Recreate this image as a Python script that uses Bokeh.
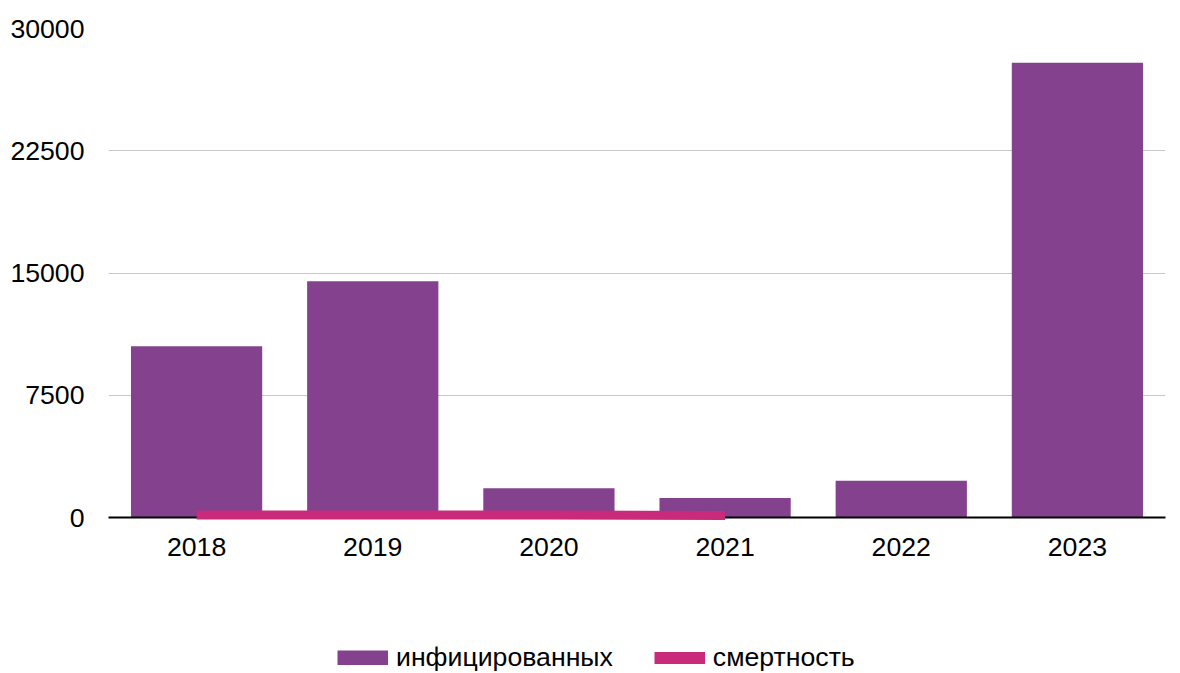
from bokeh.plotting import figure
from bokeh.layouts import column
from bokeh.models import FixedTicker, Legend, LegendItem, FactorRange, Range1d, NumeralTickFormatter
from bokeh.embed import file_html
from bokeh.resources import INLINE

years = ["2018", "2019", "2020", "2021", "2022", "2023"]
infected = [10500, 14500, 1800, 1200, 2250, 27900]
death_years = ["2018", "2019", "2020", "2021"]
deaths = [160, 160, 150, 130]
y_ticks = [0, 7500, 15000, 22500, 30000]
series_names = ["инфицированных", "смертность"]

BAR = "#84418E"
LINE = "#C92A7C"
FONT = "Liberation Sans"
FSIZE = "20pt"

p = figure(width=1172, height=580, x_range=FactorRange(*years, range_padding=0),
           y_range=Range1d(0, 30000), output_backend="svg", toolbar_location=None,
           min_border_left=108, min_border_right=7, min_border_top=28, min_border_bottom=63)
p.outline_line_color = None

bars = p.vbar(x=years, top=infected, width=0.745, color=BAR, line_color=None)
ln = p.line(x=death_years, y=deaths, line_color=LINE, line_width=9)
ln.level = "overlay"

p.yaxis.ticker = FixedTicker(ticks=y_ticks)
p.yaxis.formatter = NumeralTickFormatter(format="0")
p.yaxis.axis_line_color = None
p.yaxis.major_tick_line_color = None
p.yaxis.minor_tick_line_color = None
p.yaxis.major_label_text_font = FONT
p.yaxis.major_label_text_font_size = FSIZE
p.yaxis.major_label_text_color = "#000000"
p.yaxis.major_label_standoff = 18

p.xaxis.axis_line_color = "#000000"
p.xaxis.axis_line_width = 2
p.xaxis.major_tick_line_color = None
p.xaxis.minor_tick_line_color = None
p.xaxis.major_label_text_font = FONT
p.xaxis.major_label_text_font_size = FSIZE
p.xaxis.major_label_text_color = "#000000"
p.xaxis.major_label_standoff = 14

p.xgrid.grid_line_color = None
p.ygrid.ticker = FixedTicker(ticks=y_ticks)
p.ygrid.grid_line_color = "#C8C8C8"
p.ygrid.grid_line_width = 1

# legend strip below the chart (its single-point lines only serve as legend swatches)
q = figure(width=1172, height=93, x_range=Range1d(0, 1), y_range=Range1d(0, 1),
           output_backend="svg", toolbar_location=None,
           min_border_left=0, min_border_right=0, min_border_top=0, min_border_bottom=0)
q.axis.visible = False
q.grid.visible = False
q.outline_line_color = None
swatch_bar = q.line(x=[0.5], y=[0.5], line_color=BAR, line_width=15)
swatch_line = q.line(x=[0.5], y=[0.5], line_color=LINE, line_width=12)

legend = Legend(items=[LegendItem(label=series_names[0], renderers=[swatch_bar]),
                       LegendItem(label=series_names[1], renderers=[swatch_line])],
                orientation="horizontal", location=(229, 0),
                label_text_font=FONT, label_text_font_size=FSIZE, label_text_color="#000000",
                glyph_width=51, glyph_height=15, label_standoff=8, spacing=41,
                border_line_alpha=0, background_fill_alpha=0, padding=0, margin=0)
q.add_layout(legend, "center")

open("out.html", "w").write(file_html(column(p, q, spacing=0), INLINE))
